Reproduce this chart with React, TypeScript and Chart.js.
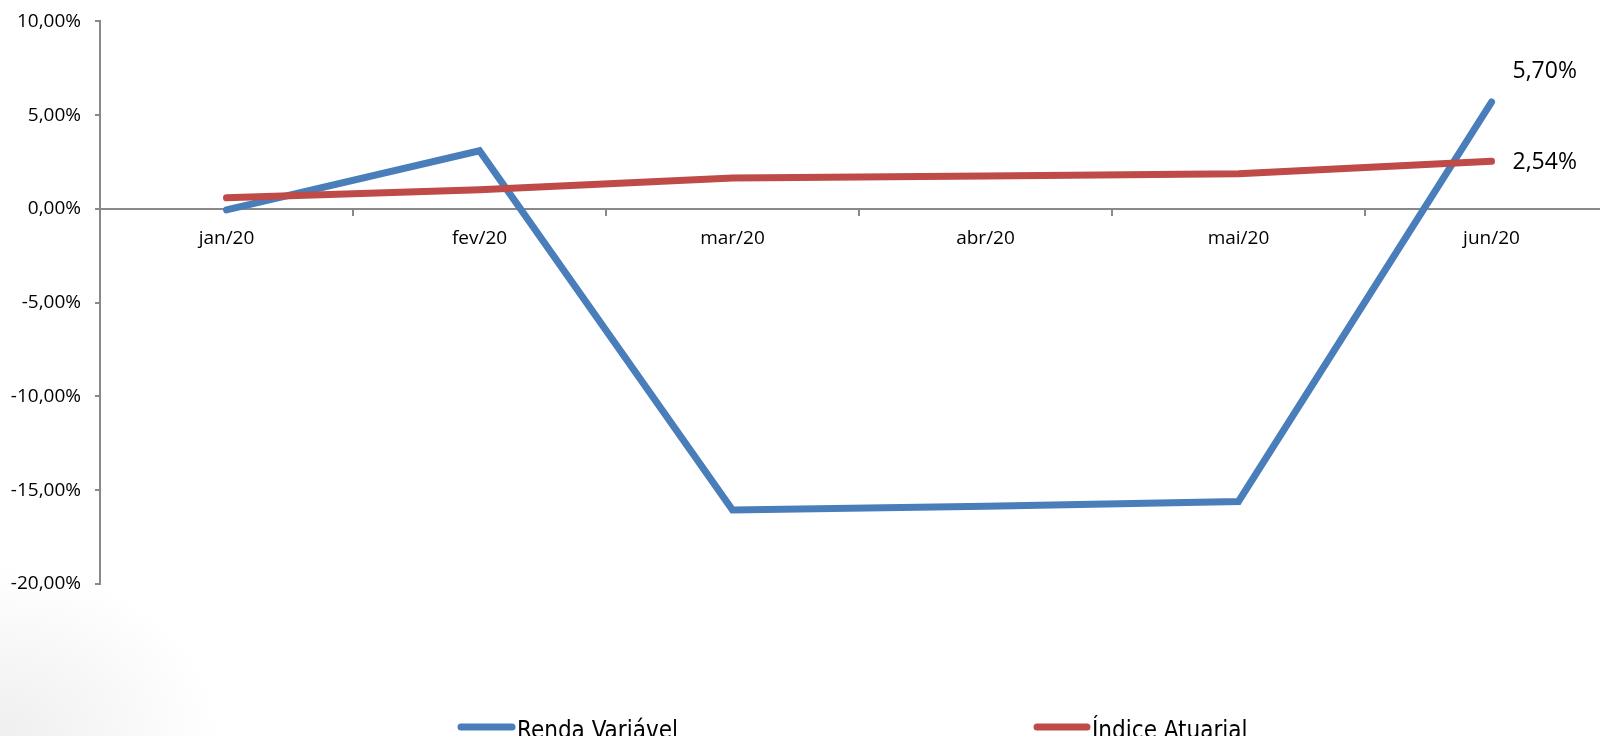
import React, { useEffect, useRef } from "react";
import { Chart, registerables } from "chart.js";

Chart.register(...registerables);

const categories = ["jan/20", "fev/20", "mar/20", "abr/20", "mai/20", "jun/20"];
const rendaVariavel = [-0.05, 3.1, -16.05, -15.85, -15.6, 5.7];
const indiceAtuarial = [0.59, 1.02, 1.65, 1.76, 1.88, 2.54];
const seriesNames = ["Renda Variável", "Índice Atuarial"];
const seriesColors = ["#4A7EBB", "#BE4B48"];
const yMin = -20;
const yMax = 10;
const yStep = 5;

const fmt = (v: number) => v.toFixed(2).replace(".", ",") + "%";

const TICK_FONT = { family: "'Open Sans', 'Noto Sans', sans-serif", size: 19 };
const AXIS_COLOR = "#898989";
const SHIFT = 4;

const lastLabelPlugin = {
  id: "lastLabels",
  afterDatasetsDraw(chart: any) {
    const ctx = chart.ctx;
    const offsets = [-31, 1];
    ctx.save();
    ctx.font = "23px 'Open Sans', 'Noto Sans', sans-serif";
    ctx.fillStyle = "#000000";
    ctx.textAlign = "left";
    ctx.textBaseline = "middle";
    chart.data.datasets.forEach((ds: any, i: number) => {
      const meta = chart.getDatasetMeta(i);
      const pts = meta.data;
      const el = pts[pts.length - 1];
      const v = ds.data[ds.data.length - 1];
      ctx.fillText(fmt(v), el.x + 21, el.y + offsets[ds.seriesIndex]);
    });
    ctx.restore();
  },
};

const customLegendPlugin = {
  id: "customLegend",
  afterDraw(chart: any) {
    const ctx = chart.ctx;
    const items = [
      { lineStart: 458, lineEnd: 515, textX: 517 },
      { lineStart: 1034, lineEnd: 1090, textX: 1092 },
    ];
    const y = 727 + SHIFT;
    ctx.save();
    ctx.font = "24px 'Liberation Sans Narrow', 'DejaVu Sans Condensed', 'Open Sans', sans-serif";
    ctx.textAlign = "left";
    ctx.textBaseline = "alphabetic";
    items.forEach((it, i) => {
      ctx.strokeStyle = seriesColors[i];
      ctx.lineWidth = 7;
      ctx.lineCap = "round";
      ctx.beginPath();
      ctx.moveTo(it.lineStart + 3, y);
      ctx.lineTo(it.lineEnd - 3, y);
      ctx.stroke();
      ctx.fillStyle = "#000000";
      ctx.fillText(seriesNames[i], it.textX, y + 11);
    });
    ctx.restore();
  },
};

export default function App() {
  const canvasRef = useRef<HTMLCanvasElement | null>(null);

  useEffect(() => {
    if (!canvasRef.current) return;
    const chart = new Chart(canvasRef.current, {
      type: "line",
      data: {
        labels: categories,
        datasets: [
          {
            label: seriesNames[0],
            data: rendaVariavel,
            borderColor: seriesColors[0],
            backgroundColor: seriesColors[0],
            borderWidth: 7,
            borderCapStyle: "round",
            borderJoinStyle: "miter",
            pointRadius: 0,
            tension: 0,
            order: 1,
            seriesIndex: 0,
          } as any,
          {
            label: seriesNames[1],
            data: indiceAtuarial,
            borderColor: seriesColors[1],
            backgroundColor: seriesColors[1],
            borderWidth: 7,
            borderCapStyle: "round",
            borderJoinStyle: "round",
            pointRadius: 0,
            tension: 0,
            order: 0,
            seriesIndex: 1,
          } as any,
        ],
      },
      options: {
        animation: false,
        responsive: false,
        devicePixelRatio: 1,
        layout: { padding: { top: 18, left: 0, right: 22, bottom: 152 } },
        plugins: {
          legend: { display: false },
          tooltip: { enabled: false },
        },
        scales: {
          x: {
            type: "category",
            offset: true,
            position: { y: 0 } as any,
            grid: {
              offset: true,
              drawOnChartArea: false,
              drawTicks: true,
              tickLength: 6,
              color: AXIS_COLOR,
              lineWidth: 2,
            },
            border: { display: true, color: AXIS_COLOR, width: 2 },
            ticks: {
              font: TICK_FONT,
              color: "#000000",
              padding: 12,
              maxRotation: 0,
              autoSkip: false,
            },
            afterFit: (scale: any) => {
              scale.height = 0;
            },
          },
          y: {
            type: "linear",
            min: yMin,
            max: yMax,
            grid: {
              drawOnChartArea: false,
              drawTicks: true,
              tickLength: 5,
              color: AXIS_COLOR,
              lineWidth: 2,
            },
            border: { display: true, color: AXIS_COLOR, width: 2 },
            ticks: {
              stepSize: yStep,
              font: TICK_FONT,
              color: "#000000",
              padding: 14,
              callback: (v: any) => fmt(Number(v)),
            },
            afterFit: (scale: any) => {
              scale.width = 100;
            },
          },
        },
      },
      plugins: [lastLabelPlugin, customLegendPlugin],
    });
    return () => chart.destroy();
  }, []);

  return (
    <div
      style={{
        position: "fixed",
        left: 0,
        top: 0,
        width: 1600,
        height: 736,
        overflow: "hidden",
        background: "radial-gradient(ellipse 220px 170px at 0% 100%, #efefef 0%, #f7f7f7 50%, #ffffff 100%)",
      }}
    >
      <canvas
        ref={canvasRef}
        width={1640}
        height={736 + SHIFT}
        style={{ display: "block", width: 1640, height: 736 + SHIFT, marginTop: -SHIFT }}
      />
    </div>
  );
}
